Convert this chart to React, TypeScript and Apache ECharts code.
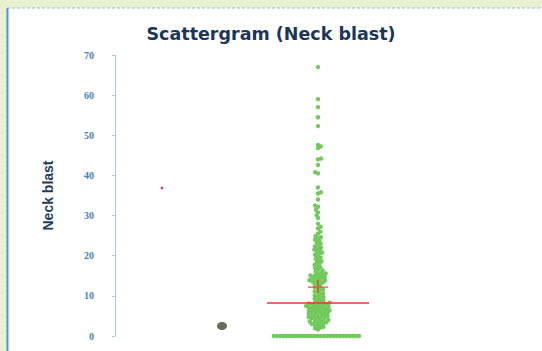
import { useEffect, useRef } from "react";
import * as echarts from "echarts";

// ---- data ----
const zeroValues = [
  0, 0, 0, 0, 0, 0, 0, 0, 0, 0, 0, 0, 0, 0, 0, 0, 0, 0, 0, 0, 0, 0, 0, 0, 0, 0, 0, 0,
];
const lowValues = [
  1.6, 1.9, 2.1, 2.3, 2.5, 2.7, 2.9, 3, 3.1, 3.3, 3.4, 3.5, 3.6, 3.7, 3.9, 4, 4.1, 4.3, 4.4,
  4.5, 4.6, 4.7, 4.9, 5, 5.1, 5.2, 5.3, 5.4, 5.5, 5.7, 5.8, 6, 6, 6.1, 6.2, 6.3, 6.4, 6.6,
  6.7, 6.8, 6.9, 7, 7.1, 7.2, 7.3, 7.4, 7.5, 7.6, 7.8, 7.9, 8, 8, 8.1, 8.2, 8.3, 8.5,
];
const midValues = [
  8.7, 8.9, 9.1, 9.3, 9.5, 9.7, 9.9, 10.1, 10.4, 10.6, 10.9, 11.1, 11.4, 11.6, 11.9, 12.1,
  12.4, 12.7, 13, 13.2, 13.3, 13.5, 13.6, 13.8, 13.9, 14, 14.1, 14.3, 14.4, 14.6, 14.7, 14.9,
  15, 15.1, 15.3, 15.4, 15.6, 15.8, 16, 16.3, 16.6, 16.9, 17.1, 17.4, 17.7, 18, 18.3, 18.6,
  18.9, 19.2, 19.5, 19.8,
];
const upperValues = [
  20.2, 20.5, 20.8, 21, 21.3, 21.5, 21.8, 22, 22.3, 22.6, 23, 23.3, 23.7, 24, 24.4, 24.6,
  24.9, 25.5, 26, 26.8, 27.2, 28, 29.4, 30.1,
];
const sparseValues = [
  30.8, 31.4, 32.2, 32.5, 34, 35.5, 35.8, 37, 40.5, 40.8, 42.6, 44, 44.2, 46.8, 47.2, 47.6,
  52.3, 54.5, 57, 59, 67,
];
const yTicks = [0, 10, 20, 30, 40, 50, 60, 70];
const medianValue = 8.2;
const meanValue = 12.2;
const meanLow = 10.7;
const meanHigh = 14;

// ---- layout / style constants ----
const W = 542;
const H = 351;
const GRID_LEFT = 115;
const GRID_RIGHT = 17;
const GRID_TOP = 55;
const GRID_BOTTOM = 15;
const X_MIN = -203;
const X_MAX = W - GRID_LEFT - GRID_RIGHT + X_MIN;
const Y_MAX = 70;
const PX_PER_UNIT = (H - GRID_TOP - GRID_BOTTOM) / Y_MAX;
const DOT = 3.15;
const MEDIAN_HALF = 51;
const MEAN_HALF = 10;

function beeswarm(values: number[]): number[][] {
  const sorted = [...values].sort((a, b) => a - b);
  const placed: { x: number; y: number; v: number }[] = [];
  let flip = 1;
  for (const v of sorted) {
    const y = v * PX_PER_UNIT;
    const cands: number[] = [0];
    for (const p of placed) {
      const dy = Math.abs(p.y - y);
      if (dy < DOT) {
        const dx = Math.sqrt(DOT * DOT - dy * dy);
        cands.push(p.x + dx, p.x - dx);
      }
    }
    cands.sort((a, b) => {
      const d = Math.abs(a) - Math.abs(b);
      if (Math.abs(d) > 1e-9) return d;
      return flip * (b - a);
    });
    let chosen = 0;
    for (const c of cands) {
      let ok = true;
      for (const p of placed) {
        const dy = p.y - y;
        const dx = p.x - c;
        if (dx * dx + dy * dy < DOT * DOT - 1e-6) {
          ok = false;
          break;
        }
      }
      if (ok) {
        chosen = c;
        break;
      }
    }
    flip = -flip;
    placed.push({ x: chosen, y, v });
  }
  return placed.map((p) => [p.x, p.v]);
}

export default function App() {
  const ref = useRef<HTMLDivElement>(null);
  useEffect(() => {
    if (!ref.current) return;
    const chart = echarts.init(ref.current, null, { renderer: "svg" });
    const all = [...zeroValues, ...lowValues, ...midValues, ...upperValues, ...sparseValues];
    const points = beeswarm(all);
    chart.setOption({
      animation: false,
      backgroundColor: "#eaf0d2",
      graphic: [
        {
          type: "rect",
          z: -10,
          shape: { x: 7, y: 8, width: 545, height: 350 },
          style: { fill: "#ffffff", stroke: "#8cbde0", lineWidth: 1, lineDash: [3, 2] },
        },
        {
          type: "line",
          z: -9,
          shape: { x1: 7.5, y1: 8, x2: 7.5, y2: 351 },
          style: { stroke: "#4e9ad2", lineWidth: 2 },
        },
        {
          type: "circle",
          shape: { cx: 162, cy: 188, r: 1.4 },
          style: { fill: "#e0407a" },
        },
        {
          type: "ellipse",
          shape: { cx: 222, cy: 326, rx: 5, ry: 4 },
          style: { fill: "#6b6a58" },
        },
      ],
      title: {
        text: "Scattergram (Neck blast)",
        left: "center",
        top: 20,
        textStyle: {
          fontSize: 17.5,
          fontWeight: "bold",
          color: "#1d3557",
          fontFamily: "DejaVu Sans, Verdana, sans-serif",
        },
      },
      grid: {
        left: GRID_LEFT,
        right: GRID_RIGHT,
        top: GRID_TOP,
        bottom: GRID_BOTTOM,
        containLabel: false,
      },
      xAxis: {
        type: "value",
        min: X_MIN,
        max: X_MAX,
        show: false,
      },
      yAxis: {
        type: "value",
        min: 0,
        max: Y_MAX,
        interval: 10,
        name: "Neck blast",
        nameLocation: "middle",
        nameRotate: 90,
        nameGap: 60,
        nameTextStyle: {
          fontSize: 14,
          fontWeight: "bold",
          color: "#1e3d5c",
          fontFamily: "Liberation Sans Narrow, Arial Narrow, Liberation Sans, sans-serif",
        },
        axisLine: { show: true, onZero: false, lineStyle: { color: "#a3cde8", width: 1 } },
        axisTick: { show: true, length: 3, lineStyle: { color: "#a3cde8" } },
        splitLine: { show: false },
        axisLabel: {
          margin: 21,
          fontSize: 10,
          fontWeight: "bold",
          color: "#4a80b3",
          fontFamily: "Liberation Serif, DejaVu Serif, serif",
          formatter: (v: number) => (yTicks.includes(v) ? String(v) : ""),
        },
      },
      series: [
        {
          type: "scatter",
          data: points,
          symbol: "circle",
          symbolSize: 4.4,
          itemStyle: { color: "#72c95c", opacity: 1 },
          z: 2,
        },
        {
          type: "line",
          data: [
            [-MEDIAN_HALF, medianValue],
            [MEDIAN_HALF, medianValue],
          ],
          symbol: "none",
          lineStyle: { color: "#e8363a", width: 1.5 },
          z: 5,
        },
        {
          type: "line",
          data: [
            [-MEAN_HALF, meanValue],
            [MEAN_HALF, meanValue],
          ],
          symbol: "none",
          lineStyle: { color: "#e8504a", width: 1.2 },
          z: 5,
        },
        {
          type: "line",
          data: [
            [0, meanLow],
            [0, meanHigh],
          ],
          symbol: "none",
          lineStyle: { color: "#c0702c", width: 2 },
          z: 6,
        },
      ],
    });
    return () => chart.dispose();
  }, []);
  return (
    <div
      style={{ position: "fixed", left: 0, top: 0, width: W, height: H, overflow: "hidden" }}
    >
      <div ref={ref} style={{ width: W, height: H }} />
    </div>
  );
}
